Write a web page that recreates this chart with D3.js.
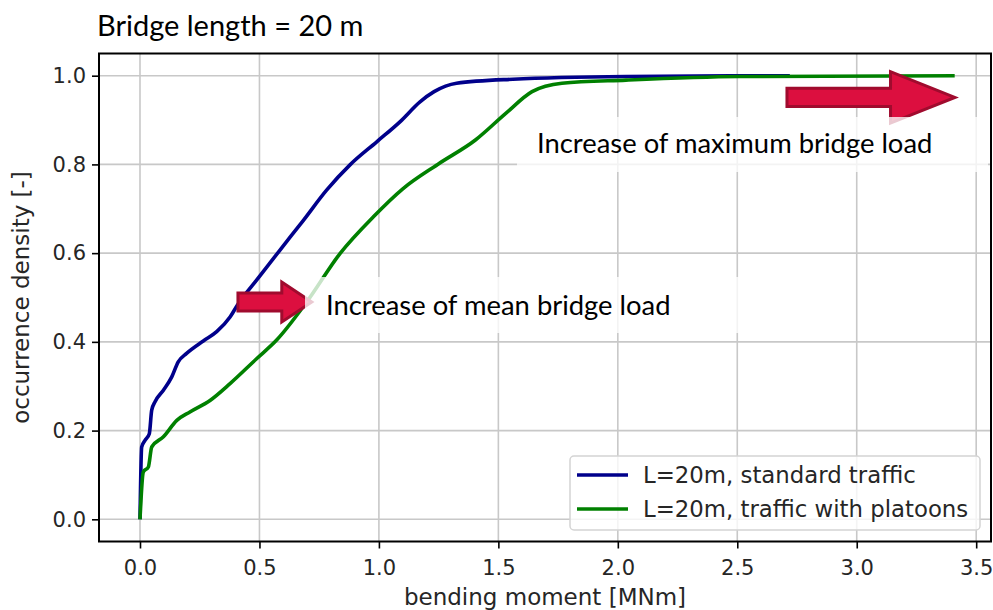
<!DOCTYPE html>
<html>
<head>
<meta charset="utf-8">
<script src="https://cdn.jsdelivr.net/npm/d3@7"></script>
<style>
  body { margin: 0; background: #fff; }
  svg { display: block; }
</style>
</head>
<body>
<div id="chart"></div>
<script>
// values
var standardX = [0, 0.007, 0.021, 0.039, 0.049, 0.063, 0.098, 0.133, 0.160, 0.195, 0.265, 0.321, 0.377, 0.41, 0.488, 0.586, 0.684, 0.781, 0.879, 0.991, 1.088, 1.172, 1.231, 1.325, 1.561, 2.034, 2.72];
var standardY = [0, 0.163, 0.178, 0.193, 0.246, 0.265, 0.291, 0.321, 0.355, 0.374, 0.402, 0.423, 0.456, 0.485, 0.539, 0.607, 0.674, 0.742, 0.799, 0.851, 0.896, 0.941, 0.964, 0.983, 0.992, 0.998, 1.0];
var platoonX = [0, 0.014, 0.035, 0.049, 0.098, 0.154, 0.209, 0.293, 0.377, 0.488, 0.572, 0.698, 0.837, 0.977, 1.10, 1.246, 1.404, 1.531, 1.641, 1.766, 2.034, 2.51, 3.41];
var platoonY = [0, 0.107, 0.118, 0.163, 0.186, 0.223, 0.242, 0.268, 0.306, 0.362, 0.404, 0.490, 0.599, 0.682, 0.745, 0.800, 0.855, 0.915, 0.964, 0.983, 0.990, 0.998, 1.0];
var seriesNames = ["L=20m, standard traffic", "L=20m, traffic with platoons"];
var seriesColors = ["#00008b", "#008000"];
var xTicks = [0, 0.5, 1.0, 1.5, 2.0, 2.5, 3.0, 3.5];
var yTicks = [0, 0.2, 0.4, 0.6, 0.8, 1.0];
var title = "Bridge length = 20 m";
var xLabel = "bending moment [MNm]";
var yLabel = "occurrence density [-]";
// annotations: arrow start x, arrow tip x, y (data units), text
var notes = [
  {x0: 2.708, x1: 3.411, y: 0.951, text: "Increase of maximum bridge load"},
  {x0: 0.41, x1: 0.719, y: 0.49, text: "Increase of mean bridge load"}
];

var W = 993, H = 610;
var margin = {top: 53.5, right: 2, bottom: 68.5, left: 99},
    width = W - margin.left - margin.right,
    height = H - margin.top - margin.bottom;

var axisFont = "'DejaVu Sans', sans-serif",
    noteFont = "Lato, 'Open Sans', sans-serif";

var svg = d3.select("#chart").append("svg")
    .attr("width", W)
    .attr("height", H);

var g = svg.append("g")
    .attr("transform", "translate(" + margin.left + "," + margin.top + ")");

var x = d3.scaleLinear().domain([-0.1716, 3.562]).range([0, width]);
var y = d3.scaleLinear().domain([-0.05, 1.05]).range([height, 0]);

// grid
g.append("g").selectAll("line").data(xTicks).enter().append("line")
    .attr("x1", d => x(d)).attr("x2", d => x(d))
    .attr("y1", 0).attr("y2", height)
    .attr("stroke", "#c8c8c8").attr("stroke-width", 1.6);
g.append("g").selectAll("line").data(yTicks).enter().append("line")
    .attr("y1", d => y(d)).attr("y2", d => y(d))
    .attr("x1", 0).attr("x2", width)
    .attr("stroke", "#c8c8c8").attr("stroke-width", 1.6);

// curves
var series = [
  standardX.map((v, i) => [v, standardY[i]]),
  platoonX.map((v, i) => [v, platoonY[i]])
];
var line = d3.line()
    .x(d => x(d[0]))
    .y(d => y(d[1]))
    .curve(d3.curveMonotoneX);

g.selectAll(".curve").data(series).enter().append("path")
    .attr("class", "curve")
    .attr("d", line)
    .attr("fill", "none")
    .attr("stroke", (d, i) => seriesColors[i])
    .attr("stroke-width", 3.6)
    .attr("stroke-linejoin", "round");

// arrows
var arrowDims = [
  {shaft: 9.2, head: 25.7, headLen: 64.4},
  {shaft: 9, head: 20, headLen: 30}
];
notes.forEach(function(n, i) {
  var a = arrowDims[i];
  var sx = x(n.x0), tx = x(n.x1), cy = y(n.y), bx = tx - a.headLen;
  var pts = [[sx, cy - a.shaft], [bx, cy - a.shaft], [bx, cy - a.head], [tx, cy],
             [bx, cy + a.head], [bx, cy + a.shaft], [sx, cy + a.shaft]];
  g.append("path")
      .attr("d", "M" + pts.join("L") + "Z")
      .attr("fill", "#dc0f3f")
      .attr("stroke", "#a00b2e")
      .attr("stroke-width", 3)
      .attr("stroke-linejoin", "miter");
});

// white boxes behind annotation texts
var boxes = [
  {x: 517, y: 117, w: 471, h: 55},
  {x: 305, y: 277, w: 495, h: 56}
];
boxes.forEach(function(b) {
  svg.append("rect")
      .attr("x", b.x).attr("y", b.y)
      .attr("width", b.w).attr("height", b.h)
      .attr("fill", "#fff").attr("fill-opacity", 0.78);
});

var notePos = [[537, 153], [326, 315]];
notes.forEach(function(n, i) {
  svg.append("text")
      .attr("x", notePos[i][0]).attr("y", notePos[i][1])
      .style("font-family", noteFont)
      .style("font-size", "27.4px")
      .attr("fill", "#000")
      .text(n.text);
});

// axes
var xAxis = g.append("g")
    .attr("transform", "translate(0," + height + ")")
    .call(d3.axisBottom(x).tickValues(xTicks).tickFormat(d3.format(".1f")).tickSize(7).tickPadding(12));
var yAxis = g.append("g")
    .call(d3.axisLeft(y).tickValues(yTicks).tickFormat(d3.format(".1f")).tickSize(7).tickPadding(6));

[xAxis, yAxis].forEach(function(ax) {
  ax.select(".domain").remove();
  ax.selectAll(".tick line").attr("stroke", "#000").attr("stroke-width", 1.6);
  ax.selectAll(".tick text")
      .style("font-family", axisFont)
      .style("font-size", "21px")
      .attr("fill", "#262626");
});

// frame
g.append("rect")
    .attr("width", width).attr("height", height)
    .attr("fill", "none")
    .attr("stroke", "#000").attr("stroke-width", 2);

// legend
var legend = svg.append("g").attr("transform", "translate(570,456)");
legend.append("rect")
    .attr("width", 410).attr("height", 74)
    .attr("rx", 4)
    .attr("fill", "#fff").attr("fill-opacity", 0.8)
    .attr("stroke", "#d4d4d4").attr("stroke-width", 1.5);
seriesNames.forEach(function(name, i) {
  var ly = 19 + i * 34;
  legend.append("line")
      .attr("x1", 7).attr("x2", 58)
      .attr("y1", ly).attr("y2", ly)
      .attr("stroke", seriesColors[i]).attr("stroke-width", 3.6);
  legend.append("text")
      .attr("x", 73).attr("y", ly)
      .attr("dy", "0.35em")
      .style("font-family", axisFont)
      .style("font-size", "22.8px")
      .attr("fill", "#262626")
      .text(name);
});

// titles
svg.append("text")
    .attr("x", 97).attr("y", 36)
    .style("font-family", noteFont)
    .style("font-size", "29px")
    .attr("fill", "#000")
    .text(title);

svg.append("text")
    .attr("x", margin.left + width / 2).attr("y", 605)
    .attr("text-anchor", "middle")
    .style("font-family", axisFont)
    .style("font-size", "23px")
    .attr("fill", "#262626")
    .text(xLabel);

svg.append("text")
    .attr("transform", "translate(29," + (margin.top + height / 2) + ") rotate(-90)")
    .attr("text-anchor", "middle")
    .style("font-family", axisFont)
    .style("font-size", "23px")
    .attr("fill", "#262626")
    .text(yLabel);
</script>
</body>
</html>
